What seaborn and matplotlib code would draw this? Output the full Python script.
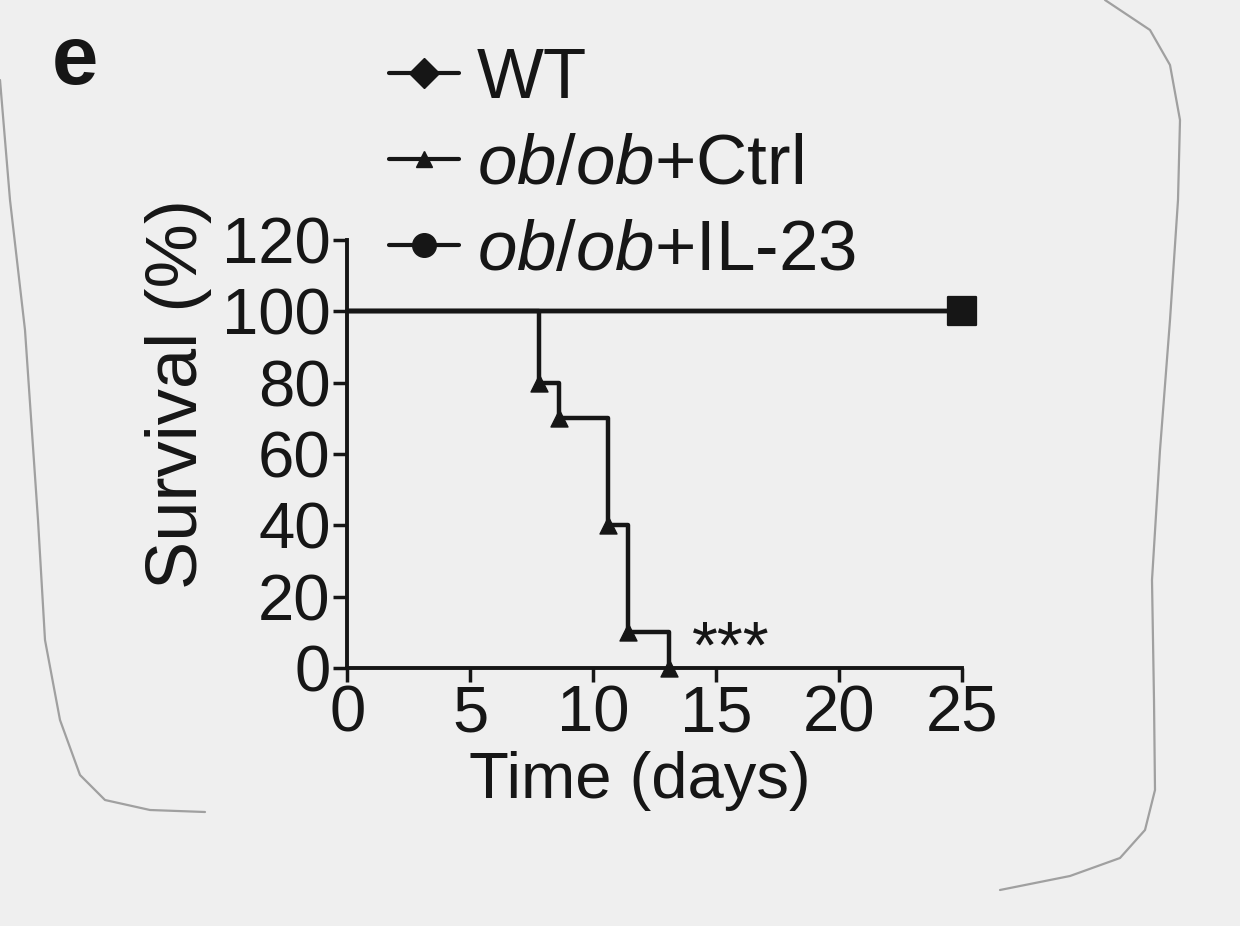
import pandas as pd
import matplotlib.pyplot as plt
import seaborn as sns
from matplotlib.lines import Line2D

# Données de survie (jours, %)
groups = ["WT", "ob/ob+Ctrl", "ob/ob+IL-23"]
wt_days = [0, 25]
wt_surv = [100, 100]
ctrl_days = [0, 7.8, 8.6, 10.6, 11.4, 13.1]
ctrl_surv = [100, 80, 70, 40, 10, 0]
il23_days = [0, 25]
il23_surv = [100, 100]

x_ticks = [0, 5, 10, 15, 20, 25]
y_ticks = [0, 20, 40, 60, 80, 100, 120]

sns.set_theme(style="ticks")
plt.rcParams["font.family"] = ["Liberation Sans", "DejaVu Sans"]
plt.rcParams["mathtext.fontset"] = "custom"
plt.rcParams["mathtext.rm"] = "Liberation Sans"
plt.rcParams["mathtext.it"] = "Liberation Sans:italic"

bg = "#efefef"
ink = "#161616"

curves = pd.concat([
    pd.DataFrame({"Jour": wt_days, "Survie": wt_surv, "Groupe": groups[0]}),
    pd.DataFrame({"Jour": ctrl_days, "Survie": ctrl_surv, "Groupe": groups[1]}),
    pd.DataFrame({"Jour": il23_days, "Survie": il23_surv, "Groupe": groups[2]}),
])

fig = plt.figure(figsize=(12.4, 9.26), dpi=100, facecolor=bg)

# bord du papier scanné (tracé à la main)
left_edge = [(0, 80), (10, 200), (25, 330), (38, 520), (45, 640), (60, 720),
             (80, 775), (105, 800), (150, 810), (205, 812)]
right_edge = [(1105, 0), (1150, 30), (1170, 65), (1180, 120), (1178, 200),
              (1170, 320), (1160, 450), (1152, 580), (1154, 700), (1155, 790),
              (1145, 830), (1120, 858), (1070, 876), (1000, 890)]
for edge in (left_edge, right_edge):
    xs = [p[0] / 1240 for p in edge]
    ys = [1 - p[1] / 926 for p in edge]
    fig.add_artist(Line2D(xs, ys, transform=fig.transFigure,
                          color="#8c8c8c", lw=1.6, alpha=0.8))

ax = fig.add_axes([0.28, 0.2786, 0.496, 0.4622])
ax.set_facecolor(bg)

sns.lineplot(data=curves, x="Jour", y="Survie", hue="Groupe",
             palette=[ink, ink, ink], drawstyle="steps-post",
             linewidth=3.2, legend=False, ax=ax, clip_on=False)

# marqueurs aux événements (sans le point de départ)
events = curves[curves["Jour"] > 0]
markers = {groups[0]: "D", groups[1]: "^", groups[2]: "s"}
sizes = {groups[0]: 160, groups[1]: 150, groups[2]: 420}
for g in groups:
    sub = events[events["Groupe"] == g]
    sns.scatterplot(data=sub, x="Jour", y="Survie", color=ink,
                    marker=markers[g], s=sizes[g], edgecolor=ink,
                    legend=False, ax=ax, clip_on=False, zorder=5)

ax.text(15.6, 5, "***", fontsize=48, ha="center", va="center", color=ink)

ax.set_xlim(0, 25)
ax.set_ylim(0, 120)
ax.set_xticks(x_ticks)
ax.set_yticks(y_ticks)
ax.tick_params(axis="both", labelsize=47, length=10, width=2.5,
               color=ink, labelcolor=ink, pad=2)
for s in ["left", "bottom"]:
    ax.spines[s].set_linewidth(2.8)
    ax.spines[s].set_color(ink)
sns.despine(ax=ax)

ax.set_xlabel("Time (days)", fontsize=47, color=ink)
ax.set_ylabel("Survival (%)", fontsize=52, color=ink)
ax.xaxis.set_label_coords(0.476, -0.195)
ax.yaxis.set_label_coords(-0.22, 0.64)

handles = [
    Line2D([], [], color=ink, lw=3, marker="D", markersize=15),
    Line2D([], [], color=ink, lw=3, marker="^", markersize=11),
    Line2D([], [], color=ink, lw=3, marker="o", markersize=17),
]
labels = ["WT", r"$\it{ob/ob}$+Ctrl", r"$\it{ob/ob}$+IL-23"]
fig.legend(handles, labels, loc="upper left", bbox_to_anchor=(0.262, 1.018),
           frameon=False, fontsize=51, handlelength=1.0, handletextpad=0.25,
           labelspacing=0.28, labelcolor=ink)

fig.text(0.042, 0.975, "e", fontsize=60, fontweight="bold", color=ink,
         va="top", ha="left")

fig.savefig("out.png", dpi=100, facecolor=bg)
